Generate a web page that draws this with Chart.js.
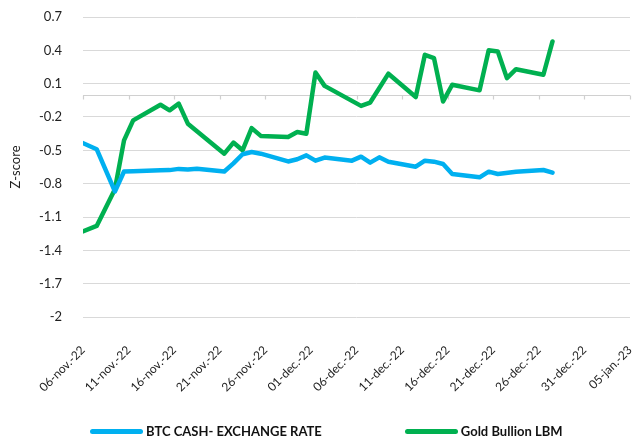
<!DOCTYPE html>
<html>
<head>
<meta charset="utf-8">
<script src="https://cdn.jsdelivr.net/npm/chart.js@4/dist/chart.umd.min.js"></script>
<style>
  html, body { margin: 0; padding: 0; background: #fff; }
  #wrap { position: relative; width: 635px; height: 437px; }
  #legend {
    position: absolute; left: 90px; top: 423px;
    display: flex; align-items: center; gap: 83px;
    font: bold 13px Lato, sans-serif; color: #111;
  }
  #legend .item { display: flex; align-items: center; gap: 3px; white-space: nowrap; }
  #legend .swatch { width: 53px; height: 5px; border-radius: 3px; }
</style>
</head>
<body>
<div id="wrap">
  <canvas id="zChart" width="635" height="437"></canvas>
  <div id="legend"></div>
</div>
<script>
// trading days (points sit in the middle of each day on the date axis)
const dates = [
    "2022-11-04", "2022-11-07", "2022-11-09", "2022-11-10", "2022-11-11",
    "2022-11-14", "2022-11-15", "2022-11-16", "2022-11-17", "2022-11-18",
    "2022-11-21", "2022-11-22", "2022-11-23", "2022-11-24", "2022-11-25",
    "2022-11-28", "2022-11-29", "2022-11-30", "2022-12-01", "2022-12-02",
    "2022-12-05", "2022-12-06", "2022-12-07", "2022-12-08", "2022-12-09",
    "2022-12-12", "2022-12-13", "2022-12-14", "2022-12-15", "2022-12-16",
    "2022-12-19", "2022-12-20", "2022-12-21", "2022-12-22", "2022-12-23",
    "2022-12-26", "2022-12-27",
];

const btcCash = [
    -0.38, -0.49, -0.87, -0.69, -0.688,
    -0.68, -0.678, -0.667, -0.673, -0.665,
    -0.69, -0.617, -0.535, -0.515, -0.53,
    -0.60, -0.58, -0.545, -0.593, -0.565,
    -0.593, -0.557, -0.611, -0.563, -0.602,
    -0.647, -0.593, -0.602, -0.623, -0.713,
    -0.743, -0.692, -0.713, null, -0.692,
    -0.677, -0.701,
];

const goldBullion = [
    -1.28, -1.18, -0.85, -0.41, -0.23,
    -0.09, -0.14, -0.08, -0.26, null,
    -0.53, -0.43, -0.50, -0.30, -0.37,
    -0.38, -0.335, -0.35, 0.20, 0.08,
    null, -0.10, -0.07, null, 0.19,
    -0.02, 0.36, 0.33, -0.06, 0.09,
    0.04, 0.40, 0.39, 0.15, 0.23,
    0.18, 0.48,
];

const xTickLabels = [
    "06-nov.-22", "11-nov.-22", "16-nov.-22", "21-nov.-22", "26-nov.-22",
    "01-dec.-22", "06-dec.-22", "11-dec.-22", "16-dec.-22", "21-dec.-22",
    "26-dec.-22", "31-dec.-22", "05-jan.-23",
];

const seriesNames = ["BTC CASH- EXCHANGE RATE", "Gold Bullion LBM"];
const seriesColors = ["#00B0F0", "#00B050"];

const axisStart = Date.UTC(2022, 10, 6);
const DAY = 86400000;
function dayPos(s) {
    const p = s.split("-").map(Number);
    return (Date.UTC(p[0], p[1] - 1, p[2]) - axisStart) / DAY + 0.5;
}
function toPoints(values) {
    return dates.map((d, i) => ({ x: dayPos(d), y: values[i] }));
}

const FONT = "Lato, 'Open Sans', sans-serif";
const GRID = "#d9d9d9";
const TEXT = "#1f1f1f";

// horizontal axis line crosses at y = 0, with its tick marks hanging below
const zeroAxis = {
    id: "zeroAxis",
    beforeDatasetsDraw(chart) {
        const { ctx, chartArea, scales } = chart;
        const y0 = Math.round(scales.y.getPixelForValue(0)) + 0.5;
        ctx.save();
        ctx.strokeStyle = "#d0d0d0";
        ctx.lineWidth = 1.2;
        ctx.beginPath();
        ctx.moveTo(chartArea.left, y0);
        ctx.lineTo(chartArea.right, y0);
        scales.x.ticks.forEach((t) => {
            const x = Math.round(scales.x.getPixelForValue(t.value)) + 0.5;
            ctx.moveTo(x, y0);
            ctx.lineTo(x, y0 + 4);
        });
        ctx.stroke();
        ctx.restore();
    },
};

const htmlLegend = {
    id: "htmlLegend",
    afterUpdate(chart) {
        const box = document.getElementById("legend");
        box.innerHTML = "";
        chart.options.plugins.legend.labels.generateLabels(chart).forEach((item) => {
            const el = document.createElement("div");
            el.className = "item";
            const sw = document.createElement("span");
            sw.className = "swatch";
            sw.style.background = item.strokeStyle;
            const tx = document.createElement("span");
            tx.textContent = item.text;
            el.appendChild(sw);
            el.appendChild(tx);
            box.appendChild(el);
        });
    },
};

const config = {
    type: "line",
    data: {
        datasets: [
            {
                label: seriesNames[0],
                data: toPoints(btcCash),
                borderColor: seriesColors[0],
                backgroundColor: seriesColors[0],
            },
            {
                label: seriesNames[1],
                data: toPoints(goldBullion),
                borderColor: seriesColors[1],
                backgroundColor: seriesColors[1],
            },
        ],
    },
    options: {
        responsive: false,
        animation: false,
        spanGaps: true,
        elements: {
            point: { radius: 0, hoverRadius: 0 },
            line: { borderWidth: 4.5, tension: 0, borderJoinStyle: "round", borderCapStyle: "round" },
        },
        layout: { padding: { top: 0, right: 5, bottom: 0, left: 0 } },
        plugins: {
            legend: { display: false },
            tooltip: { enabled: false },
        },
        scales: {
            x: {
                type: "linear",
                min: 0,
                max: 60,
                afterFit: (scale) => {
                    scale.height = 120;
                    scale.paddingLeft = 0;
                    scale.paddingRight = 5;
                },
                border: { display: false },
                grid: { display: false },
                ticks: {
                    stepSize: 5,
                    autoSkip: false,
                    minRotation: 45,
                    maxRotation: 45,
                    padding: 18,
                    color: TEXT,
                    font: { family: FONT, size: 12 },
                    callback: (v, i) => xTickLabels[i],
                },
            },
            y: {
                min: -2,
                max: 0.7,
                afterFit: (scale) => {
                    scale.width = 83;
                    scale.paddingTop = 17;
                    scale.paddingBottom = 0;
                },
                border: { display: false },
                grid: { color: GRID, drawTicks: false },
                ticks: {
                    stepSize: 0.3,
                    padding: 21,
                    color: TEXT,
                    font: { family: FONT, size: 13 },
                    callback: (v) => String(Math.round(v * 10) / 10),
                },
                title: {
                    display: true,
                    text: "Z-score",
                    color: TEXT,
                    padding: { top: 8, bottom: 0 },
                    font: { family: FONT, size: 13 },
                },
            },
        },
    },
    plugins: [zeroAxis, htmlLegend],
};

new Chart(document.getElementById("zChart"), config);
</script>
</body>
</html>
